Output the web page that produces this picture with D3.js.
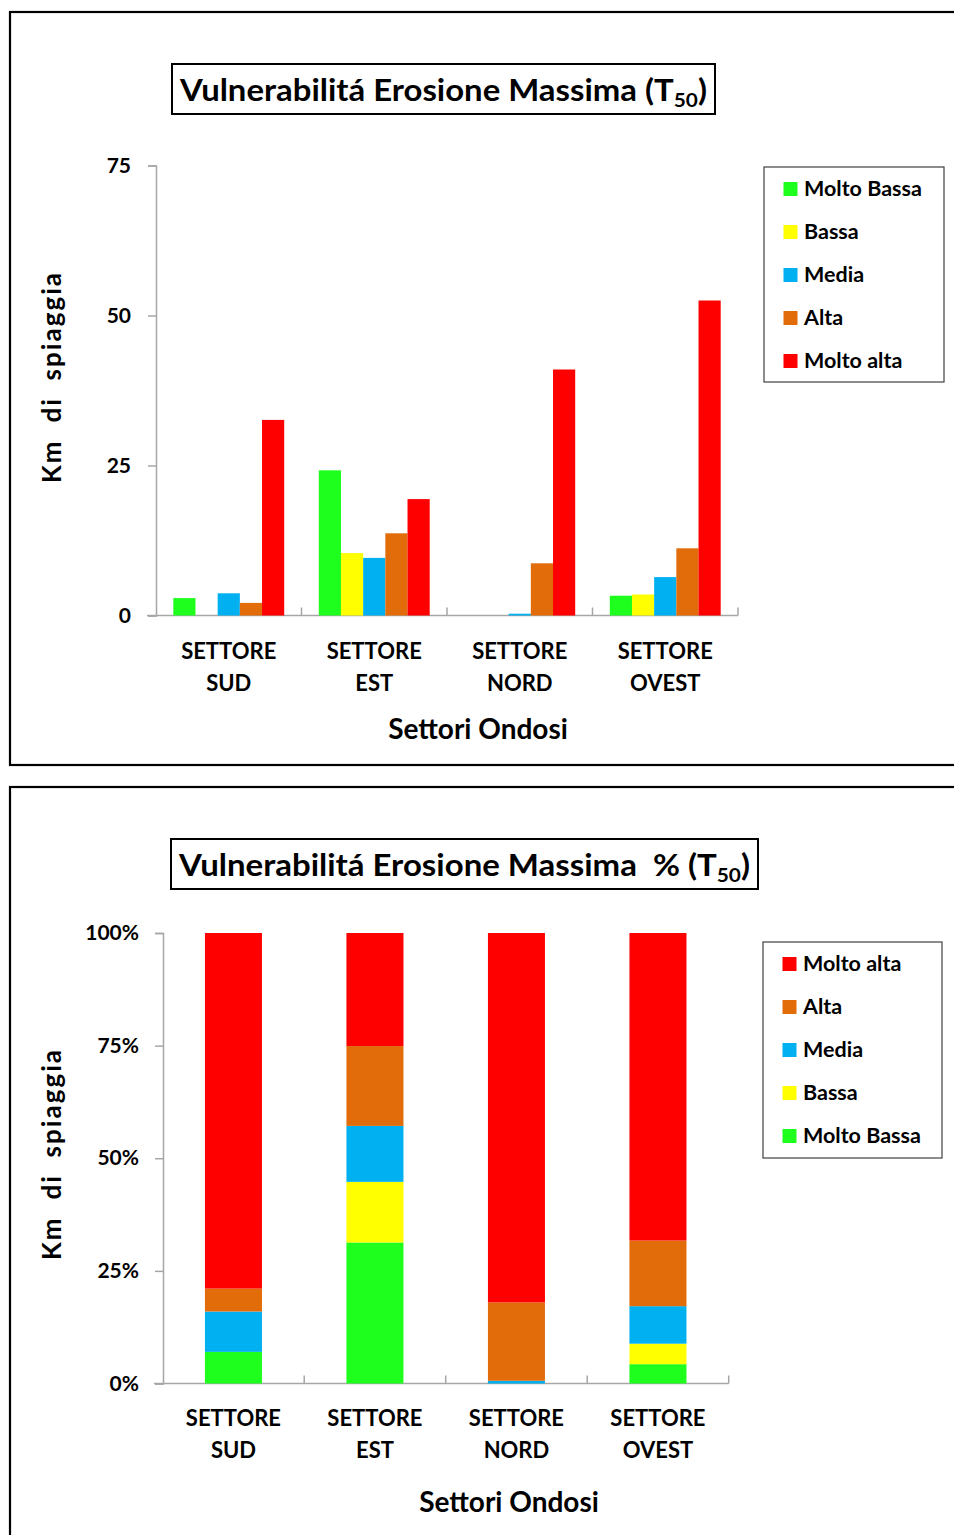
<!DOCTYPE html>
<html>
<head>
<meta charset="utf-8">
<script src="https://cdn.jsdelivr.net/npm/d3@7"></script>
<style>
  body { margin: 0; background: #fff; }
  svg { display: block; font-family: Lato, "Open Sans", sans-serif; }
  text { fill: #000; }
</style>
</head>
<body>
<svg id="chart" width="954" height="1535"></svg>
<script>
// Vulnerability classes and wave sectors
const sectors = ["SUD", "EST", "NORD", "OVEST"];
const classes = ["Molto Bassa", "Bassa", "Media", "Alta", "Molto alta"];
const classColors = ["#1eff1e", "#ffff00", "#00b0f0", "#e36c0a", "#ff0000"];

// Km of beach per class, one value per sector (SUD, EST, NORD, OVEST)
const moltoBassa = [2.9, 24.2, 0.0, 3.3];
const bassa      = [0.0, 10.4, 0.0, 3.5];
const media      = [3.7, 9.6, 0.3, 6.4];
const alta       = [2.1, 13.7, 8.7, 11.2];
const moltoAlta  = [32.6, 19.4, 41.0, 52.5];

const kmTicks = [0, 25, 50, 75];
const pctTicks = [0, 0.25, 0.5, 0.75, 1];
const pctTickLabels = ["0%", "25%", "50%", "75%", "100%"];

const series = [moltoBassa, bassa, media, alta, moltoAlta];
const rows = sectors.map((s, i) => {
  const r = { sector: s };
  classes.forEach((c, j) => { r[c] = series[j][i]; });
  return r;
});
const color = d3.scaleOrdinal(classes, classColors);

const svg = d3.select("#chart");
const AXIS = "#a6a6a6";

function frame(y, h) {
  svg.append("rect").attr("x", 10).attr("y", y).attr("width", 1000).attr("height", h)
    .attr("fill", "none").attr("stroke", "#000").attr("stroke-width", 2.2);
}

function titleBox(x, y, w, h, main, len) {
  svg.append("rect").attr("x", x).attr("y", y).attr("width", w).attr("height", h)
    .attr("fill", "#fff").attr("stroke", "#000").attr("stroke-width", 2);
  const t = svg.append("text").attr("x", x + 8).attr("y", y + 37)
    .attr("font-size", 30).attr("font-weight", 700)
    .style("white-space", "pre");
  t.append("tspan").text(main + "(T");
  t.append("tspan").attr("font-size", 19).attr("dy", 6).text("50");
  t.append("tspan").attr("dy", -6).text(")");
  t.attr("textLength", len).attr("lengthAdjust", "spacingAndGlyphs");
}

function yTitle(cx, cy) {
  svg.append("text").attr("transform", `translate(${cx},${cy}) rotate(-90)`)
    .attr("text-anchor", "middle").attr("font-size", 26).attr("font-weight", 700)
    .attr("textLength", 210).attr("lengthAdjust", "spacing")
    .style("white-space", "pre").text("Km  di  spiaggia");
}

function xLabels(x, y1, y2) {
  sectors.forEach(s => {
    const cx = x(s) + x.bandwidth() / 2;
    svg.append("text").attr("x", cx).attr("y", y1).attr("text-anchor", "middle")
      .attr("font-size", 22).attr("font-weight", 700).text("SETTORE");
    svg.append("text").attr("x", cx).attr("y", y2).attr("text-anchor", "middle")
      .attr("font-size", 22).attr("font-weight", 700).text(s);
  });
}

function xAxisLine(x, y0, xStart) {
  const r = x.range();
  svg.append("line").attr("x1", xStart).attr("x2", r[1]).attr("y1", y0).attr("y2", y0)
    .attr("stroke", AXIS).attr("stroke-width", 1.5);
  const bounds = sectors.map(s => x(s)).slice(1).concat([r[1]]);
  svg.selectAll(null).data(bounds).enter().append("line")
    .attr("x1", d => d).attr("x2", d => d).attr("y1", y0).attr("y2", y0 - 8)
    .attr("stroke", AXIS).attr("stroke-width", 1.5);
}

function styleYAxis(g) {
  g.select(".domain").attr("stroke", AXIS).attr("stroke-width", 1.5);
  g.selectAll(".tick line").attr("stroke", AXIS).attr("stroke-width", 1.5);
  g.selectAll(".tick text").attr("font-size", 21).attr("font-weight", 700)
    .attr("fill", "#000").attr("font-family", "Lato, sans-serif");
}

function legend(x, y, w, h, order) {
  svg.append("rect").attr("x", x).attr("y", y).attr("width", w).attr("height", h)
    .attr("fill", "#fff").attr("stroke", "#404040").attr("stroke-width", 1.2);
  const g = svg.append("g");
  order.forEach((c, i) => {
    const cy = y + 22 + i * 43;
    g.append("rect").attr("x", x + 19.5).attr("y", cy - 7).attr("width", 14).attr("height", 14)
      .attr("fill", color(c));
    g.append("text").attr("x", x + 40).attr("y", cy + 7).attr("font-size", 21.5)
      .attr("font-weight", 700).text(c);
  });
}

/* ---------- Panel 1: km of beach per class ---------- */
frame(12, 753);
titleBox(172, 64, 543, 50, "Vulnerabilitá Erosione Massima ", 527);

const x1 = d3.scaleBand().domain(sectors).range([156, 738]);
const y1 = d3.scaleLinear().domain([0, 75]).range([615.5, 165.5]);
const inner = d3.scaleBand().domain(classes).range([17.3, x1.bandwidth() - 17.3]);

svg.append("g").attr("transform", "translate(156,0)")
  .call(d3.axisLeft(y1).tickValues(kmTicks).tickSize(8).tickPadding(17).tickFormat(d3.format("d")))
  .call(styleYAxis);
xAxisLine(x1, 615.5, 147);

svg.append("g").selectAll("g").data(rows).enter().append("g")
  .attr("transform", d => `translate(${x1(d.sector)},0)`)
  .selectAll("rect").data(d => classes.map(c => ({ c, v: d[c] }))).enter().append("rect")
  .attr("x", d => inner(d.c)).attr("width", inner.bandwidth())
  .attr("y", d => y1(d.v)).attr("height", d => y1(0) - y1(d.v))
  .attr("fill", d => color(d.c));

xLabels(x1, 659, 691);
svg.append("text").attr("x", 478).attr("y", 739).attr("text-anchor", "middle")
  .attr("font-size", 28).attr("font-weight", 700).text("Settori Ondosi");
yTitle(61, 378);
legend(764, 167, 180, 215, classes);

/* ---------- Panel 2: share of each class (100% stacked) ---------- */
frame(787, 800);
titleBox(171, 839, 587, 50, "Vulnerabilitá Erosione Massima  % ", 571);

const x2 = d3.scaleBand().domain(sectors).range([162.7, 728.7]);
const y2 = d3.scaleLinear().domain([0, 1]).range([1383.5, 933]);
const barW = x2.bandwidth() * 0.403;

svg.append("g").attr("transform", "translate(163,0)")
  .call(d3.axisLeft(y2).tickValues(pctTicks).tickSize(8).tickPadding(16)
    .tickFormat((d, i) => pctTickLabels[i]))
  .call(styleYAxis);
xAxisLine(x2, 1383.5, 154);

const stacked = d3.stack().keys(classes).offset(d3.stackOffsetExpand)(rows);
svg.append("g").selectAll("g").data(stacked).enter().append("g")
  .attr("fill", d => color(d.key))
  .selectAll("rect").data(d => d).enter().append("rect")
  .attr("x", d => x2(d.data.sector) + (x2.bandwidth() - barW) / 2)
  .attr("width", barW)
  .attr("y", d => y2(d[1])).attr("height", d => y2(d[0]) - y2(d[1]));

xLabels(x2, 1426, 1458);
svg.append("text").attr("x", 509).attr("y", 1512).attr("text-anchor", "middle")
  .attr("font-size", 28).attr("font-weight", 700).text("Settori Ondosi");
yTitle(61, 1155);
legend(763, 942, 179, 216, classes.slice().reverse());
</script>
</body>
</html>
